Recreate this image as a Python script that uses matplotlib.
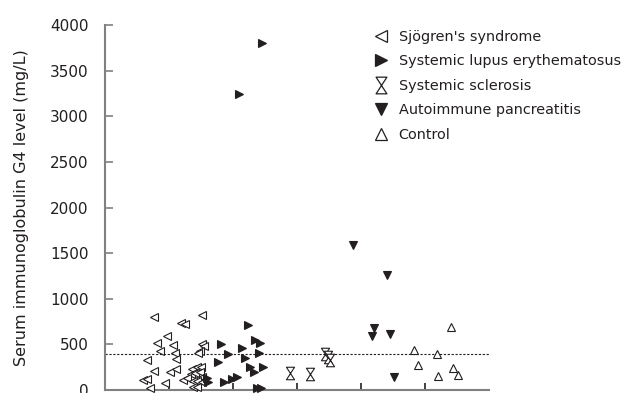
import matplotlib
matplotlib.use("Agg")
import matplotlib.pyplot as plt
from matplotlib.path import Path
from matplotlib.lines import Line2D

# ---- data ----
sjogren_x = [0.77, 1.19, 1.25, 0.97, 0.81, 1.06, 0.86, 1.09, 1.11, 0.65, 0.77, 1.02, 1.11,
             0.60, 0.65, 0.93, 1.22, 0.70, 1.52, 1.51, 1.54, 1.48, 1.45,
             1.355, 1.433, 1.495, 1.339, 1.406, 1.484, 1.511, 1.277, 1.380, 1.442, 1.511, 1.380, 1.433]
sjogren_y = [795, 729, 718, 587, 510, 492, 430, 404, 339, 331, 211, 200, 230,
             109, 120, 73, 105, 19, 823, 503, 484, 430, 404,
             230, 248, 248, 175, 186, 193, 139, 131, 102, 95, 84, 30, 30]

sle_x = [2.46, 2.10, 2.23, 1.81, 2.35, 2.42, 2.14, 1.92, 2.41, 2.18, 1.76, 2.27, 2.47,
         2.33, 2.06, 1.98, 1.86, 1.59, 1.61, 2.37, 2.44]
sle_y = [3807, 3246, 710, 503, 546, 510, 456, 393, 401, 346, 303, 255, 255,
         200, 139, 120, 84, 131, 84, 19, 19]

ssc_x = [2.89, 3.21, 3.44, 3.49, 3.51]
ssc_y = [185, 180, 400, 360, 330]

aip_x = [3.88, 4.41, 4.20, 4.17, 4.45, 4.51]
aip_y = [1585, 1260, 674, 587, 609, 145]

ctrl_x = [4.83, 5.18, 5.41, 4.89, 5.43, 5.21, 5.51]
ctrl_y = [440, 390, 689, 273, 244, 150, 164]

cutoff = 400
yticks = [0, 500, 1000, 1500, 2000, 2500, 3000, 3500, 4000]
xticks = [1, 2, 3, 4, 5]
labels = ["Sjögren's syndrome", "Systemic lupus erythematosus", "Systemic sclerosis",
          "Autoimmune pancreatitis", "Control"]
ylabel = "Serum immunoglobulin G4 level (mg/L)"

# ---- style ----
txt = "#231f20"
spine_c = "#808080"
hourglass = Path([(-0.65, 1), (0.65, 1), (-0.65, -1), (0.65, -1), (-0.65, 1)],
                 [Path.MOVETO, Path.LINETO, Path.LINETO, Path.LINETO, Path.CLOSEPOLY])

fig = plt.figure(figsize=(6.21, 3.93), dpi=100)
ax = fig.add_axes([105 / 621, 1 - 390 / 393, (489 - 105) / 621, (390 - 25) / 393])

ms = 5.5
ax.plot(sjogren_x, sjogren_y, ls="none", marker="<", ms=ms, mfc="white", mec=txt, mew=0.8, zorder=3, clip_on=False)
ax.plot(sle_x, sle_y, ls="none", marker=">", ms=ms, mfc=txt, mec=txt, mew=0.8, zorder=3, clip_on=False)
ax.plot(ssc_x, ssc_y, ls="none", marker=hourglass, ms=9, mfc="white", mec=txt, mew=0.8, zorder=3)
ax.plot(aip_x, aip_y, ls="none", marker="v", ms=ms, mfc=txt, mec=txt, mew=0.8, zorder=3)
ax.plot(ctrl_x, ctrl_y, ls="none", marker="^", ms=ms, mfc="white", mec=txt, mew=0.8, zorder=3)

ax.axhline(cutoff, color=txt, ls=(0, (2, 1.5)), lw=0.8, zorder=2)

ax.set_xlim(0, 6)
ax.set_ylim(0, 4000)
ax.set_xticks(xticks)
ax.set_xticklabels([])
ax.set_yticks(yticks)
ax.set_yticklabels([str(v) for v in yticks], fontsize=11, color=txt)
ax.tick_params(axis="y", direction="in", length=6, width=1.2, color=spine_c, pad=12)
ax.tick_params(axis="x", direction="in", length=5, width=1.2, color=txt)
for s in ["top", "right"]:
    ax.spines[s].set_visible(False)
for s in ["left", "bottom"]:
    ax.spines[s].set_color(spine_c)
    ax.spines[s].set_linewidth(1.5)
ax.set_ylabel(ylabel, fontsize=11.5, color=txt)
ax.yaxis.set_label_coords(-0.198, 0.5)

handles = [
    Line2D([], [], ls="none", marker="<", ms=8, mfc="white", mec=txt, mew=0.9),
    Line2D([], [], ls="none", marker=">", ms=8, mfc=txt, mec=txt, mew=0.9),
    Line2D([], [], ls="none", marker=hourglass, ms=12, mfc="white", mec=txt, mew=0.9),
    Line2D([], [], ls="none", marker="v", ms=8, mfc=txt, mec=txt, mew=0.9),
    Line2D([], [], ls="none", marker="^", ms=8, mfc="white", mec=txt, mew=0.9),
]
leg = fig.legend(handles, labels, loc="upper left", bbox_to_anchor=(374 / 621, 1 - 30 / 393),
                 frameon=False, fontsize=10.4, handlelength=1.0, handletextpad=0.7,
                 labelspacing=0.72, borderpad=0, borderaxespad=0)
for t in leg.get_texts():
    t.set_color(txt)

fig.savefig("out.png", dpi=100)
